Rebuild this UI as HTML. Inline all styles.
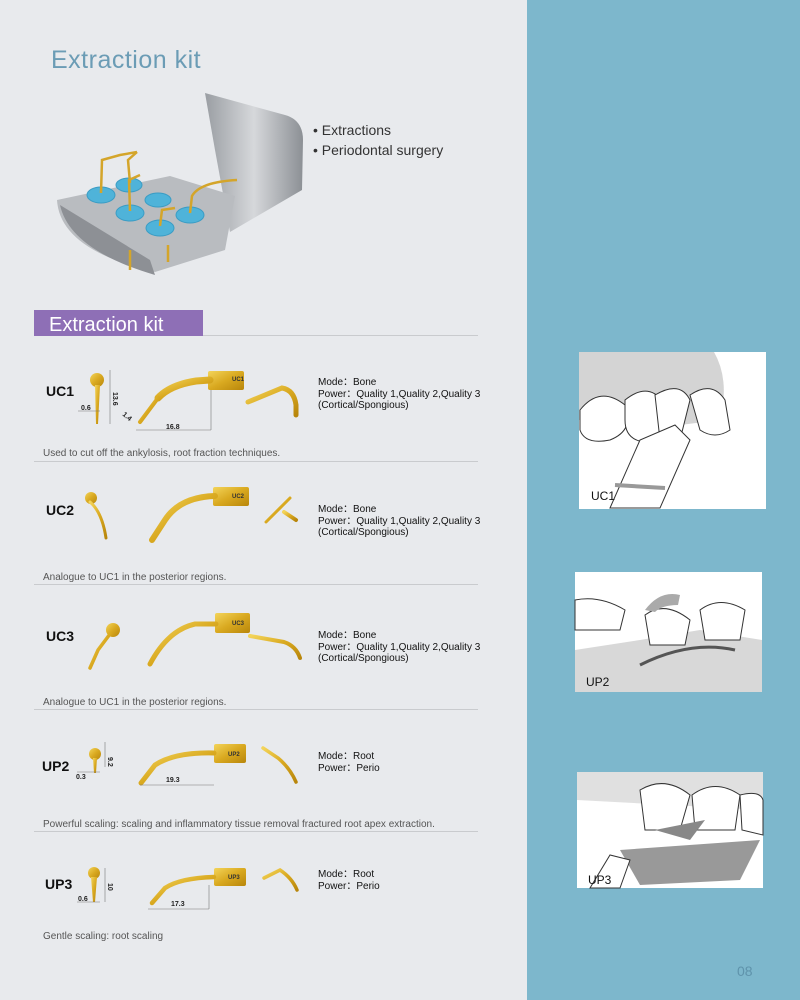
<!DOCTYPE html>
<html><head><meta charset="utf-8"><style>
html,body{margin:0;padding:0;width:800px;height:1000px;overflow:hidden;background:#e8eaed}
svg{display:block;font-family:"Liberation Sans",Arial,sans-serif}
</style></head><body>
<svg width="800" height="1000" viewBox="0 0 800 1000" xmlns="http://www.w3.org/2000/svg">
<defs>
<linearGradient id="g" x1="0" y1="0" x2="1" y2="1"><stop offset="0" stop-color="#f3d45a"/><stop offset=".5" stop-color="#d9a920"/><stop offset="1" stop-color="#b8860b"/></linearGradient>
<linearGradient id="m" x1="0" y1="0" x2="1" y2="0"><stop offset="0" stop-color="#9a9ea3"/><stop offset=".5" stop-color="#d6d8db"/><stop offset="1" stop-color="#8c9095"/></linearGradient>
</defs>
<rect x="0" y="0" width="527" height="1000" fill="#e8eaed"/>
<rect x="527" y="0" width="273" height="1000" fill="#7db7cc"/>
<text x="51" y="68" font-size="25" fill="#6b9cb5" letter-spacing="0.5">Extraction kit</text>
<!-- kit tray -->
<path d="M205 93 L285 115 Q303 120 303 140 L302 190 L230 232 L215 150 Z" fill="url(#m)"/>
<path d="M57 200 L170 176 L235 196 L225 250 L155 272 Q60 250 57 200 Z" fill="#b9bcc0"/>
<path d="M60 205 L150 260 L155 275 Q70 250 60 205Z" fill="#8d9095"/>
<g fill="#4fb3d9" stroke="#3a9cc4"><ellipse cx="101" cy="195" rx="14" ry="8"/><ellipse cx="129" cy="185" rx="13" ry="7"/><ellipse cx="130" cy="213" rx="14" ry="8"/><ellipse cx="158" cy="200" rx="13" ry="7"/><ellipse cx="160" cy="228" rx="14" ry="8"/><ellipse cx="190" cy="215" rx="14" ry="8"/></g>
<g stroke="#d4a52a" stroke-width="2.5" fill="none"><path d="M101 193 L102 160 L120 155 L137 152"/><path d="M130 183 L128 160 L137 152"/><path d="M130 211 L129 180 L140 175"/><path d="M160 226 L162 210 L175 208"/><path d="M190 213 L192 196 Q200 182 237 180"/><path d="M130 250 L130 270 M168 245 L168 262" /></g>
<text x="313" y="135" font-size="14" fill="#333">• Extractions</text>
<text x="313" y="155" font-size="14" fill="#333">• Periodontal surgery</text>
<!-- header band -->
<rect x="34" y="310" width="169" height="26" fill="#8e6fb6"/>
<text x="49" y="331" font-size="20" fill="#fff">Extraction kit</text>
<g stroke="#c9cbce" stroke-width="1"><line x1="203" y1="335.5" x2="478" y2="335.5"/><line x1="34" y1="461.5" x2="478" y2="461.5"/><line x1="34" y1="584.5" x2="478" y2="584.5"/><line x1="34" y1="709.5" x2="478" y2="709.5"/><line x1="34" y1="831.5" x2="478" y2="831.5"/></g>
<g font-size="14" font-weight="bold" fill="#111"><text x="46" y="396">UC1</text><text x="46" y="515">UC2</text><text x="46" y="641">UC3</text><text x="42" y="771">UP2</text><text x="45" y="889">UP3</text></g>
<g font-size="10" fill="#111">
<text x="318" y="385">Mode：Bone</text><text x="318" y="397">Power：Quality 1,Quality 2,Quality 3</text><text x="318" y="408">(Cortical/Spongious)</text>
<text x="318" y="512">Mode：Bone</text><text x="318" y="524">Power：Quality 1,Quality 2,Quality 3</text><text x="318" y="535">(Cortical/Spongious)</text>
<text x="318" y="638">Mode：Bone</text><text x="318" y="650">Power：Quality 1,Quality 2,Quality 3</text><text x="318" y="661">(Cortical/Spongious)</text>
<text x="318" y="759">Mode：Root</text><text x="318" y="771">Power：Perio</text>
<text x="318" y="877">Mode：Root</text><text x="318" y="889">Power：Perio</text>
</g>
<g font-size="10" fill="#555">
<text x="43" y="456">Used to cut off the ankylosis, root fraction techniques.</text>
<text x="43" y="580">Analogue to UC1 in the posterior regions.</text>
<text x="43" y="705">Analogue to UC1 in the posterior regions.</text>
<text x="43" y="827">Powerful scaling: scaling and inflammatory tissue removal fractured root apex extraction.</text>
<text x="43" y="939">Gentle scaling: root scaling</text>
</g>
<!-- tips -->
<g fill="url(#g)">
<circle cx="97" cy="380" r="7"/><path d="M95 385 L100 385 L98 424 L96 424Z"/>
<rect x="208" y="371" width="36" height="19" rx="2"/>
<circle cx="91" cy="498" r="6"/>
<rect x="213" y="487" width="36" height="19" rx="2"/>
<circle cx="113" cy="630" r="7"/>
<rect x="215" y="613" width="35" height="20" rx="2"/>
<circle cx="95" cy="754" r="6"/><path d="M93 758 L97 758 L96 773 L94 773Z"/>
<rect x="214" y="744" width="32" height="19" rx="2"/>
<circle cx="94" cy="873" r="6"/><path d="M91 877 L97 877 L95 902 L93 902Z"/>
<rect x="214" y="868" width="32" height="18" rx="2"/>
</g>
<g fill="none" stroke="url(#g)" stroke-linecap="round">
<!-- UC1 -->
<path d="M210 380 L196 381 Q170 385 158 398" stroke-width="7"/>
<path d="M158 398 L140 422" stroke-width="4"/>
<path d="M248 402 L282 388 Q294 390 296 405 L296 415" stroke-width="5"/>
<!-- UC2 -->
<path d="M90 502 Q102 512 106 538" stroke-width="3"/>
<path d="M215 496 Q180 497 165 520 L152 540" stroke-width="6"/>
<path d="M266 522 L290 498" stroke-width="3"/><path d="M284 512 L296 520" stroke-width="4"/>
<!-- UC3 -->
<path d="M110 634 L98 650 L90 668" stroke-width="3.5"/>
<path d="M216 624 L195 624 Q168 630 150 664" stroke-width="5"/>
<path d="M250 636 L284 642 Q296 646 300 658" stroke-width="4"/>
<!-- UP2 -->
<path d="M214 753 Q175 752 155 765 L141 783" stroke-width="5"/>
<path d="M263 748 L278 758 Q290 768 296 782" stroke-width="3.5"/>
<!-- UP3 -->
<path d="M214 877 Q180 878 165 888 L152 903" stroke-width="4.5"/>
<path d="M264 878 L280 870 Q292 878 297 890" stroke-width="3.5"/>
</g>
<g font-size="6" fill="#333" font-weight="bold"><text x="232" y="381">UC1</text><text x="232" y="498">UC2</text><text x="232" y="625">UC3</text><text x="228" y="756">UP2</text><text x="228" y="879">UP3</text></g>
<!-- dimensions -->
<g stroke="#777" stroke-width=".6" fill="none">
<line x1="110" y1="370" x2="110" y2="424"/><line x1="78" y1="411" x2="100" y2="411"/><line x1="136" y1="430" x2="211" y2="430"/><line x1="211" y1="390" x2="211" y2="430"/>
<line x1="105" y1="742" x2="105" y2="767"/><line x1="77" y1="772" x2="100" y2="772"/><line x1="140" y1="785" x2="214" y2="785"/>
<line x1="105" y1="868" x2="105" y2="902"/><line x1="77" y1="902" x2="100" y2="902"/><line x1="148" y1="909" x2="209" y2="909"/><line x1="209" y1="885" x2="209" y2="909"/>
</g>
<g font-size="7" fill="#222" font-weight="bold">
<text x="81" y="410">0.6</text><text x="113" y="392" transform="rotate(90 113 392)">13.6</text><text x="122" y="415" transform="rotate(40 122 415)">1.4</text><text x="166" y="429">16.8</text>
<text x="76" y="779">0.3</text><text x="108" y="757" transform="rotate(90 108 757)">9.2</text><text x="166" y="782">19.3</text>
<text x="78" y="901">0.6</text><text x="108" y="883" transform="rotate(90 108 883)">10</text><text x="171" y="906">17.3</text>
</g>
<!-- right images -->
<rect x="579" y="352" width="187" height="157" fill="#fff"/>
<path d="M579 352 L714 352 Q730 380 720 420 L640 430 L579 420Z" fill="#d4d4d4"/>
<g fill="#fff" stroke="#333" stroke-width="1"><path d="M580 410 Q600 385 625 405 Q635 430 610 440 Q585 445 580 430Z"/><path d="M625 400 Q650 380 665 405 Q670 435 645 442 Q625 440 625 420Z"/><path d="M690 395 Q712 380 725 400 L730 430 Q715 440 700 430Z"/><path d="M655 395 Q680 380 690 400 L680 440 L660 440Z"/><path d="M610 508 L640 440 L675 425 L690 440 L660 508Z"/></g>
<path d="M615 485 L665 488" stroke="#999" stroke-width="4"/>
<text x="591" y="500" font-size="12" fill="#111">UC1</text>
<rect x="575" y="572" width="187" height="120" fill="#fff"/>
<path d="M575 650 L640 640 L700 630 L762 640 L762 692 L575 692Z" fill="#d8d8d8"/>
<g fill="#fff" stroke="#333"><path d="M575 600 Q600 595 625 610 L620 630 L575 630Z"/><path d="M645 615 Q665 600 690 620 L685 645 L650 645Z"/><path d="M700 610 Q720 595 745 610 L740 640 L705 640Z"/></g>
<path d="M645 610 Q660 590 680 595 L678 605 Q662 605 655 612Z" fill="#aaa"/>
<path d="M640 665 Q690 640 735 650" stroke="#555" stroke-width="3" fill="none"/>
<text x="586" y="686" font-size="12" fill="#111">UP2</text>
<rect x="577" y="772" width="186" height="116" fill="#fff"/>
<path d="M577 772 L763 772 L763 810 L577 800Z" fill="#e0e0e0"/>
<g fill="#fff" stroke="#333"><path d="M640 790 Q665 775 690 795 L680 830 L645 830Z"/><path d="M692 795 Q715 778 740 795 L735 830 L695 830Z"/><path d="M740 795 Q760 790 763 800 L763 835 L742 830Z"/></g>
<path d="M655 830 L705 820 L690 840 Z" fill="#888"/>
<path d="M620 850 L760 840 L740 880 L640 885Z" fill="#999"/>
<path d="M590 888 L610 855 L630 860 L620 888Z" fill="#fff" stroke="#333"/>
<text x="588" y="884" font-size="12" fill="#111">UP3</text>
<text x="737" y="976" font-size="14" fill="#5f93ab">08</text>
</svg>
</body></html>
